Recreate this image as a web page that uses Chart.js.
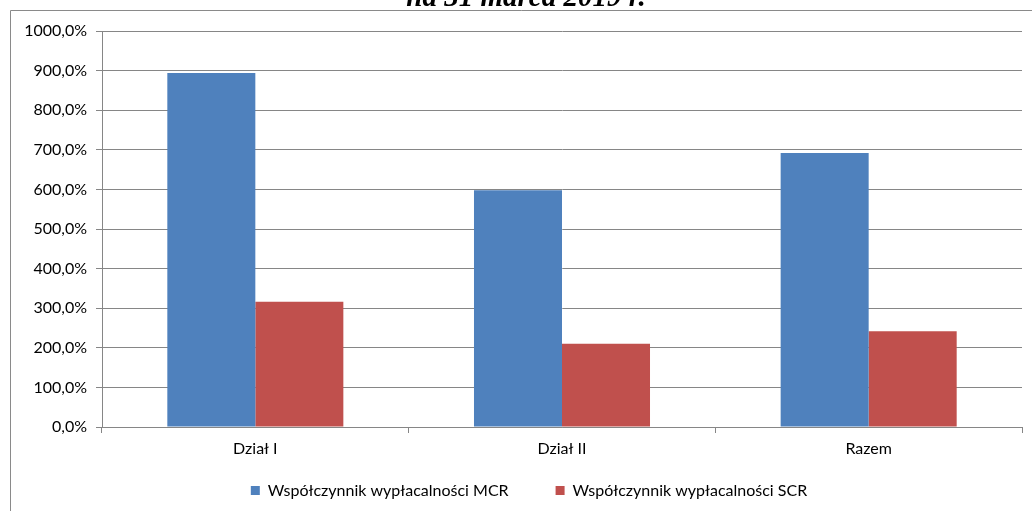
<!DOCTYPE html>
<html>
<head>
<meta charset="utf-8">
<script src="https://cdn.jsdelivr.net/npm/chart.js@4/dist/chart.umd.min.js"></script>
<style>
  html, body { margin: 0; padding: 0; background: #fff; }
  #wrap { width: 1032px; height: 511px; position: relative; }
</style>
</head>
<body>
<div id="wrap"><canvas id="c" width="1032" height="511"></canvas></div>
<script>
const categories = ["Dział I", "Dział II", "Razem"];
const seriesNames = ["Współczynnik wypłacalności MCR", "Współczynnik wypłacalności SCR"];
const mcrValues = [894, 598, 692];
const scrValues = [316, 210, 242];
const titleText = "na 31 marca 2019 r.";

const FONT = "Lato";

const framePlugin = {
  id: 'frame',
  afterLayout(chart) {
    const lg = chart.legend;
    if (lg) {
      lg.top -= 27.5;
      lg.height = lg.bottom - lg.top;
      lg.left += 13; lg.right += 13;
    }
  },
  afterDraw(chart) {
    const ctx = chart.ctx;
    ctx.save();
    ctx.strokeStyle = '#8a8a8a';
    ctx.lineWidth = 1;
    ctx.beginPath();
    ctx.moveTo(10.5, 511);
    ctx.lineTo(10.5, 10.5);
    ctx.lineTo(1032, 10.5);
    ctx.stroke();
    ctx.fillStyle = '#000';
    ctx.font = 'italic bold 29px "Liberation Serif"';
    ctx.textAlign = 'center';
    ctx.textBaseline = 'alphabetic';
    ctx.fillText(titleText, 526, 6);
    ctx.restore();
  }
};

new Chart(document.getElementById('c'), {
  type: 'bar',
  data: {
    labels: categories,
    datasets: [
      { label: seriesNames[0], data: mcrValues, backgroundColor: '#4F81BD', borderWidth: 0 },
      { label: seriesNames[1], data: scrValues, backgroundColor: '#C0504D', borderWidth: 0 }
    ]
  },
  options: {
    responsive: false,
    animation: false,
    devicePixelRatio: 1,
    layout: { padding: { top: 31, left: 10, right: 10, bottom: 0 } },
    datasets: { bar: { categoryPercentage: 0.574, barPercentage: 1 } },
    plugins: {
      title: { display: false },
      tooltip: { enabled: false },
      legend: {
        position: 'bottom',
        maxHeight: 48,
        labels: {
          boxWidth: 9, boxHeight: 9, padding: 47,
          color: '#000',
          font: { family: FONT, size: 16 }
        }
      }
    },
    scales: {
      x: {
        afterFit(s) { s.height = 36; },
        grid: { offset: true, drawOnChartArea: false, drawTicks: true, tickLength: 6, color: '#868686' },
        border: { color: '#868686' },
        ticks: { color: '#000', padding: 6, maxRotation: 0, font: { family: FONT, size: 16 } }
      },
      y: {
        min: 0, max: 1000,
        afterFit(s) { s.width = 92; },
        grid: { color: '#868686', tickLength: 6 },
        border: { color: '#868686' },
        ticks: {
          stepSize: 100, color: '#000', padding: 9,
          font: { family: FONT, size: 16 },
          callback: v => v.toFixed(1).replace('.', ',') + '%'
        }
      }
    }
  },
  plugins: [framePlugin]
});
</script>
</body>
</html>
